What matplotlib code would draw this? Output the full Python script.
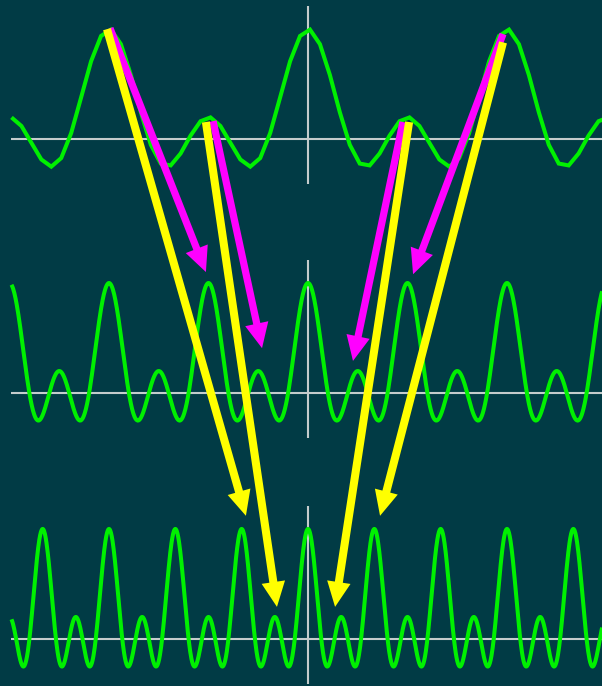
import numpy as np
import matplotlib.pyplot as plt
from matplotlib.patches import FancyArrowPatch


BG = "#013B45"
GREEN = "#00F000"
AXIS = "#C4CCCC"
MAGENTA = "#FF00FF"
YELLOW = "#FFFF00"

# f(t) = 0.5 + cos(t) + cos(2t), one period per unit of x
AMPLITUDES = [0.5, 1.0, 1.0]
# each row repeats the same waveform at a higher frequency
FREQ_MULT = [1, 2, 3]
ROW_BASE = [11.36, 5.59, 0.0]
SAMPLE_STEP = [0.05, 0.002, 0.002]

X_START, X_END = -1.49, 1.52

# arrows: colour, start (x, y on top row), target row, end (x, y on that row)
ARROW_COLOR = [MAGENTA, MAGENTA, MAGENTA, MAGENTA, YELLOW, YELLOW, YELLOW, YELLOW]
ARROW_X0 = [-0.995, -0.477, 0.477, 0.980, -1.010, -0.513, 0.508, 0.980]
ARROW_Y0 = [2.52, 0.41, 0.39, 2.39, 2.50, 0.39, 0.39, 2.20]
ARROW_ROW = [1, 1, 1, 1, 2, 2, 2, 2]
ARROW_X1 = [-0.513, -0.231, 0.226, 0.528, -0.312, -0.156, 0.136, 0.362]
ARROW_Y1 = [2.75, 1.02, 0.73, 2.70, 2.80, 0.73, 0.73, 2.80]


def wave(x, mult):
    t = 2 * np.pi * mult * x
    return sum(a * np.cos(k * t) for k, a in enumerate(AMPLITUDES))


def main():
    fig = plt.figure(figsize=(6.02, 6.86), dpi=100)
    fig.patch.set_facecolor(BG)
    ax = fig.add_axes([0, 0, 1, 1])
    ax.set_facecolor(BG)
    ax.set_xlim(-308 / 199, 294 / 199)
    ax.set_ylim(-47 / 44, 639 / 44)
    ax.axis("off")

    for mult, base, step in zip(FREQ_MULT, ROW_BASE, SAMPLE_STEP):
        ax.plot([X_START, X_END], [base, base], color=AXIS, lw=1.5, zorder=1,
                solid_capstyle="butt")
        ax.plot([0, 0], [base - 1.02, base + 3.02], color=AXIS, lw=1.5, zorder=1,
                solid_capstyle="butt")
        x = np.arange(X_START, X_END + step, step)
        ax.plot(x, base + wave(x, mult), color=GREEN, lw=2.9, zorder=2,
                solid_joinstyle="miter", solid_capstyle="butt")

    order = sorted(range(len(ARROW_COLOR)), key=lambda i: ARROW_COLOR[i] == YELLOW)
    for i in order:
        y0 = ROW_BASE[0] + ARROW_Y0[i]
        y1 = ROW_BASE[ARROW_ROW[i]] + ARROW_Y1[i]
        width = 0.58 if ARROW_COLOR[i] == YELLOW else 0.52
        ax.add_patch(
            FancyArrowPatch(
                posA=(ARROW_X0[i], y0),
                posB=(ARROW_X1[i], y1),
                arrowstyle=f"simple,head_length=1.8,head_width=1.7,tail_width={width}",
                mutation_scale=10,
                shrinkA=0,
                shrinkB=0,
                color=ARROW_COLOR[i],
                lw=0,
                zorder=4 if ARROW_COLOR[i] == YELLOW else 3,
            )
        )

    fig.savefig("out.png", dpi=100, facecolor=BG)
    plt.close(fig)


if __name__ == "__main__":
    main()
